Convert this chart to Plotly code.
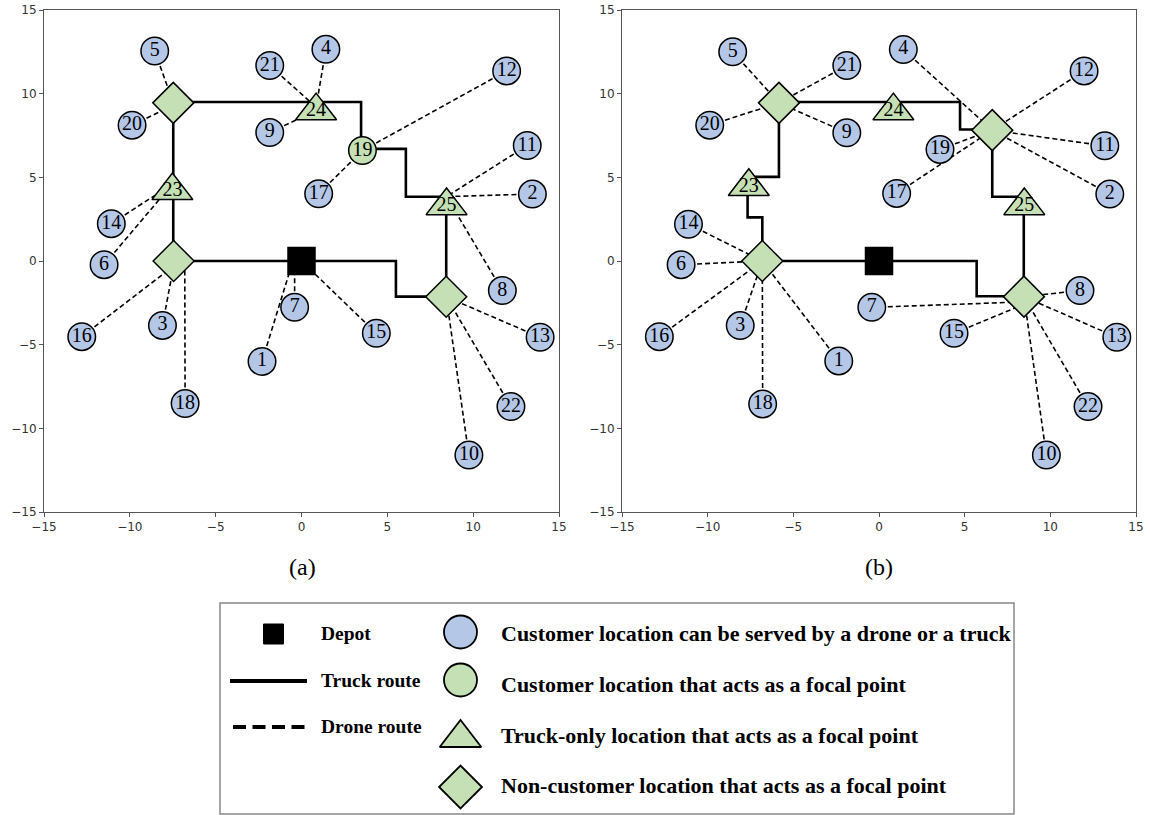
import plotly.graph_objects as go

# ---------------- Panel (a) ----------------
a_cust_id = [1, 2, 3, 4, 5, 6, 7, 8, 9, 10, 11, 12, 13, 14, 15, 16, 17, 18, 20, 21, 22]
a_cust_x = [-2.3, 13.45, -8.1, 1.42, -8.55, -11.5, -0.4, 11.7, -1.85, 9.75, 13.15,
            11.95, 13.9, -11.08, 4.36, -12.8, 1.0, -6.78, -9.87, -1.85, 12.2]
a_cust_y = [-6.0, 4.0, -3.85, 12.65, 12.55, -0.22, -2.77, -1.77, 7.68, -11.6, 6.9,
            11.36, -4.56, 2.23, -4.32, -4.52, 4.02, -8.52, 8.12, 11.68, -8.7]

a_focal_id = [19]
a_focal_x = [3.55]
a_focal_y = [6.6]

a_tri_id = [23, 24, 25]
a_tri_x = [-7.52, 0.85, 8.45]
a_tri_y = [4.2, 8.97, 3.3]

a_dia_x = [-7.47, -7.45, 8.43]
a_dia_y = [9.45, 0.0, -2.14]

a_route_x = [0, -7.47, -7.47, 3.47, 3.47, 6.08, 6.08, 8.43, 8.43, 5.5, 5.5, 0]
a_route_y = [0, 0, 9.5, 9.5, 6.7, 6.7, 3.84, 3.84, -2.13, -2.13, 0, 0]

a_drone_cust = [5, 20, 21, 4, 9, 14, 6, 12, 17, 11, 2, 8, 16, 3, 18, 1, 7, 15, 13, 22, 10]
a_drone_end_x = [-7.47, -7.47, 0.85, 0.85, 0.85, -7.52, -7.52, 3.55, 3.55, 8.45, 8.45, 8.45,
                 -7.45, -7.45, -6.8, -0.5, -0.4, 0.0, 8.43, 8.43, 8.43]
a_drone_end_y = [9.45, 9.3, 9.2, 9.2, 9.0, 4.6, 4.6, 6.6, 6.6, 3.85, 3.85, 3.85,
                 -0.3, -0.3, -0.2, 0.0, 0.0, 0.0, -2.14, -2.14, -2.14]

# ---------------- Panel (b) ----------------
b_cust_id = [1, 2, 3, 4, 5, 6, 7, 8, 9, 10, 11, 12, 13, 14, 15, 16, 17, 18, 19, 20, 21, 22]
b_cust_x = [-2.35, 13.47, -8.1, 1.42, -8.54, -11.55, -0.42, 11.73, -1.88, 9.77, 13.18,
            11.97, 13.88, -11.12, 4.38, -12.82, 1.03, -6.79, 3.56, -9.88, -1.88, 12.2]
b_cust_y = [-5.97, 4.0, -3.86, 12.64, 12.5, -0.22, -2.77, -1.77, 7.66, -11.6, 6.88,
            11.36, -4.56, 2.2, -4.32, -4.52, 4.04, -8.54, 6.67, 8.12, 11.68, -8.7]

b_tri_id = [23, 24, 25]
b_tri_x = [-7.6, 0.84, 8.48]
b_tri_y = [4.45, 8.97, 3.3]

b_dia_x = [-5.84, -6.81, 6.61, 8.46]
b_dia_y = [9.45, 0.0, 7.82, -2.13]

b_route_x = [0, -6.81, -6.81, -7.67, -7.67, -5.84, -5.84, 4.73, 4.73, 6.61, 6.61, 8.45, 8.45, 5.7, 5.7, 0]
b_route_y = [0, 0, 2.61, 2.61, 5.03, 5.03, 9.5, 9.5, 7.86, 7.86, 3.84, 3.84, -2.11, -2.11, 0, 0]

b_drone_cust = [5, 21, 20, 9, 14, 6, 16, 3, 18, 1, 4, 12, 19, 11, 17, 2, 8, 13, 22, 10, 7, 15]
b_drone_end_x = [-5.84, -5.84, -5.84, -5.84, -6.81, -6.81, -6.81, -6.81, -6.81, -6.81,
                 6.61, 6.61, 6.61, 6.61, 6.61, 6.61, 8.46, 8.46, 8.46, 8.46, 8.0, 8.2]
b_drone_end_y = [9.45, 9.45, 9.45, 9.45, 0.0, 0.0, 0.0, 0.0, 0.0, 0.0,
                 7.82, 7.82, 7.82, 7.82, 7.82, 7.82, -2.13, -2.13, -2.13, -2.13, -2.46, -2.7]

depot_x = [0.0]
depot_y = [0.0]

# ---------------- Styling ----------------
BLUE = "#b4c7e7"
GREEN = "#c5e0b4"
SERIF = "Liberation Serif, Times New Roman, serif"
LABEL_FONT = dict(family=SERIF, size=20, color="black")
W, H = 1150, 815

fig = go.Figure()


def drone_segments(route_cust, end_x, end_y, ids, cx, cy):
    """Dashed drone legs: from each served customer to its launch/focal point."""
    pos = {i: (x, y) for i, x, y in zip(ids, cx, cy)}
    xs, ys = [], []
    for c, x1, y1 in zip(route_cust, end_x, end_y):
        x0, y0 = pos[c]
        xs += [x0, x1, None]
        ys += [y0, y1, None]
    return xs, ys


def add_panel(xa, ya, cust_id, cust_x, cust_y, focal_id, focal_x, focal_y,
              tri_id, tri_x, tri_y, dia_x, dia_y, route_x, route_y,
              drone_cust, drone_ex, drone_ey):
    dx, dy = drone_segments(drone_cust, drone_ex, drone_ey, cust_id, cust_x, cust_y)
    common = dict(xaxis=xa, yaxis=ya, showlegend=False, hoverinfo="skip", cliponaxis=False)
    fig.add_trace(go.Scatter(x=dx, y=dy, mode="lines",
                             line=dict(color="black", width=1.6, dash="5px,3px"), **common))
    fig.add_trace(go.Scatter(x=route_x, y=route_y, mode="lines",
                             line=dict(color="black", width=2.6), **common))
    fig.add_trace(go.Scatter(x=depot_x, y=depot_y, mode="markers",
                             marker=dict(symbol="square", size=27, color="black",
                                         line=dict(color="black", width=1.5)), **common))
    fig.add_trace(go.Scatter(x=dia_x, y=dia_y, mode="markers",
                             marker=dict(symbol="diamond", size=31.5, color=GREEN,
                                         line=dict(color="black", width=1.5)), **common))
    fig.add_trace(go.Scatter(x=cust_x, y=cust_y, mode="markers+text",
                             text=[str(i) for i in cust_id], textposition="middle center",
                             textfont=LABEL_FONT,
                             marker=dict(symbol="circle", size=27.5, color=BLUE,
                                         line=dict(color="black", width=1.5)), **common))
    if focal_id:
        fig.add_trace(go.Scatter(x=focal_x, y=focal_y, mode="markers+text",
                                 text=[str(i) for i in focal_id], textposition="middle center",
                                 textfont=LABEL_FONT,
                                 marker=dict(symbol="circle", size=27.5, color=GREEN,
                                             line=dict(color="black", width=1.5)), **common))
    fig.add_trace(go.Scatter(x=tri_x, y=tri_y, mode="markers+text",
                             text=[str(i) for i in tri_id], textposition="middle center",
                             textfont=LABEL_FONT,
                             marker=dict(symbol="triangle-up", size=35.5, color=GREEN,
                                         line=dict(color="black", width=1.5)), **common))


add_panel("x", "y", a_cust_id, a_cust_x, a_cust_y, a_focal_id, a_focal_x, a_focal_y,
          a_tri_id, a_tri_x, a_tri_y, a_dia_x, a_dia_y, a_route_x, a_route_y,
          a_drone_cust, a_drone_end_x, a_drone_end_y)
add_panel("x2", "y2", b_cust_id, b_cust_x, b_cust_y, [], [], [],
          b_tri_id, b_tri_x, b_tri_y, b_dia_x, b_dia_y, b_route_x, b_route_y,
          b_drone_cust, b_drone_end_x, b_drone_end_y)

ticks = [-15, -10, -5, 0, 5, 10, 15]
axis_style = dict(range=[-15, 15], tickvals=ticks, showgrid=False, zeroline=False,
                  showline=True, mirror=True, linecolor="#555", linewidth=1,
                  ticks="outside", ticklen=4, tickcolor="#555", tickwidth=1,
                  automargin=False,
                  tickfont=dict(family="DejaVu Sans", size=12, color="#333"))

y_dom = [(H - 512) / H, (H - 10) / H]
fig.update_layout(
    xaxis=dict(domain=[44 / W, 559 / W], anchor="y", **axis_style),
    yaxis=dict(domain=y_dom, anchor="x", **axis_style),
    xaxis2=dict(domain=[622 / W, 1136 / W], anchor="y2", **axis_style),
    yaxis2=dict(domain=y_dom, anchor="x2", **axis_style),
    # full-page overlay in pixel units for the key box
    xaxis3=dict(domain=[0, 1], range=[0, W], anchor="y3", visible=False,
                fixedrange=True, automargin=False),
    yaxis3=dict(domain=[0, 1], range=[H, 0], anchor="x3", visible=False,
                fixedrange=True, automargin=False),
)

# ---------------- Key ----------------
key = dict(xaxis="x3", yaxis="y3", showlegend=False, hoverinfo="skip", cliponaxis=False)
fig.add_trace(go.Scatter(x=[273.5], y=[634], mode="markers",
                         marker=dict(symbol="square", size=20, color="black",
                                     line=dict(color="black", width=1)), **key))
key_symbols = ["circle", "circle", "triangle-up", "diamond"]
key_colors = [BLUE, GREEN, GREEN, GREEN]
key_sizes = [33, 33, 36, 33]
key_y = [632, 680, 738, 787]
for s, c, sz, yy in zip(key_symbols, key_colors, key_sizes, key_y):
    fig.add_trace(go.Scatter(x=[460.5], y=[yy], mode="markers",
                             marker=dict(symbol=s, size=sz, color=c,
                                         line=dict(color="black", width=1.8)), **key))

shapes = [
    dict(type="rect", xref="x3", yref="y3", x0=220, y0=603, x1=1014, y1=814,
         line=dict(color="#888", width=1.5), layer="below"),
    dict(type="line", xref="x3", yref="y3", x0=230, y0=681, x1=307, y1=681,
         line=dict(color="black", width=4)),
    dict(type="line", xref="x3", yref="y3", x0=233, y0=727, x1=307, y1=727,
         line=dict(color="black", width=4, dash="13px,6.5px")),
]

key_texts_left = ["Depot", "Truck route", "Drone route"]
key_left_y = [633, 680, 726]
key_texts_right = ["Customer location can be served by a drone or a truck",
                   "Customer location that acts as a focal point",
                   "Truck-only location that acts as a focal point",
                   "Non-customer location that acts as a focal point"]
key_right_y = [633, 684, 735, 785]

annotations = []
for t, yy in zip(key_texts_left, key_left_y):
    annotations.append(dict(xref="x3", yref="y3", x=319, y=yy, text="<b>%s</b>" % t,
                            showarrow=False, xanchor="left", yanchor="middle",
                            font=dict(family=SERIF, size=19.5, color="black")))
for t, yy in zip(key_texts_right, key_right_y):
    annotations.append(dict(xref="x3", yref="y3", x=499, y=yy, text="<b>%s</b>" % t,
                            showarrow=False, xanchor="left", yanchor="middle",
                            font=dict(family=SERIF, size=22, color="black")))
for t, xx in zip(["(a)", "(b)"], [302, 879]):
    annotations.append(dict(xref="x3", yref="y3", x=xx, y=567, text=t, showarrow=False,
                            xanchor="center", yanchor="middle",
                            font=dict(family=SERIF, size=24, color="black")))

fig.update_layout(
    width=W, height=H,
    margin=dict(l=0, r=0, t=0, b=0, autoexpand=False),
    paper_bgcolor="white", plot_bgcolor="rgba(0,0,0,0)",
    shapes=shapes, annotations=annotations,
)

fig.write_html("out.html")
